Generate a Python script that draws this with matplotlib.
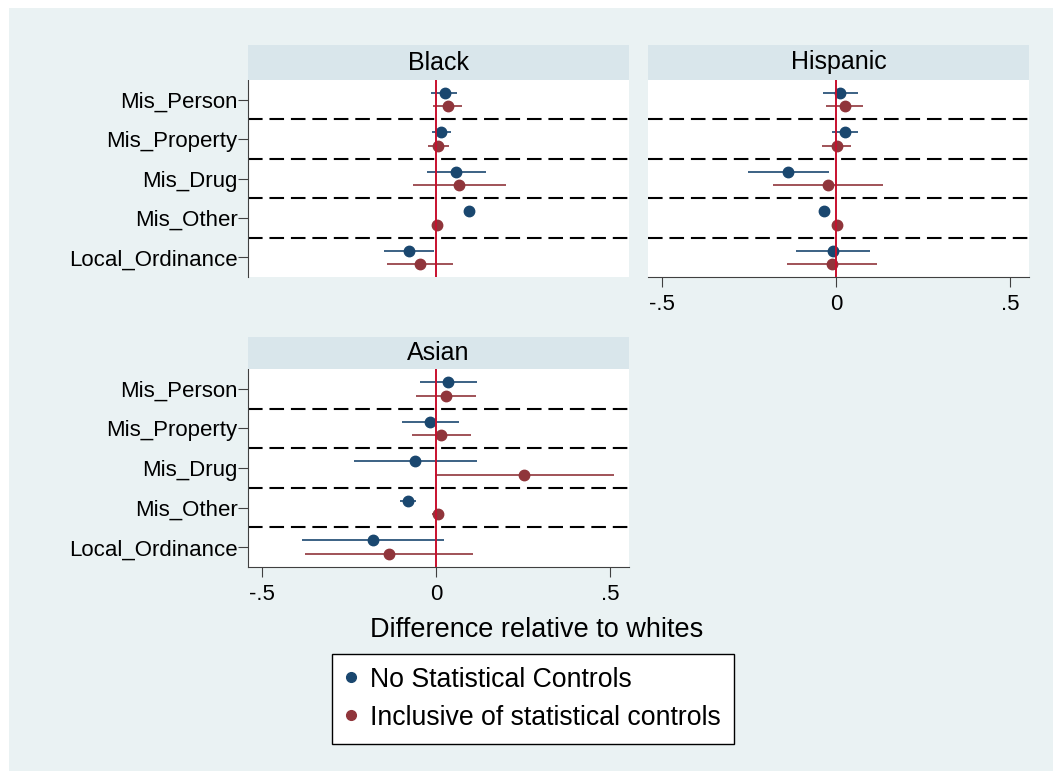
import numpy as np
import matplotlib
matplotlib.use("Agg")
import matplotlib.pyplot as plt
from matplotlib.patches import Rectangle
from matplotlib.lines import Line2D

plt.rcParams['font.family'] = ['Liberation Sans', 'DejaVu Sans']

categories = ["Mis_Person", "Mis_Property", "Mis_Drug", "Mis_Other", "Local_Ordinance"]
groups = ["Black", "Hispanic", "Asian"]
series_names = ["No Statistical Controls", "Inclusive of statistical controls"]

# point estimates and confidence bounds, per group, per category
black_none = [0.025, 0.015, 0.058, 0.096, -0.078]
black_none_lo = [-0.013, -0.011, -0.026, 0.090, -0.149]
black_none_hi = [0.061, 0.043, 0.144, 0.102, -0.006]
black_ctrl = [0.034, 0.007, 0.067, 0.003, -0.045]
black_ctrl_lo = [-0.007, -0.022, -0.067, -0.004, -0.140]
black_ctrl_hi = [0.076, 0.037, 0.201, 0.010, 0.048]

hisp_none = [0.012, 0.025, -0.138, -0.035, -0.009]
hisp_none_lo = [-0.036, -0.012, -0.254, -0.045, -0.116]
hisp_none_hi = [0.063, 0.063, -0.020, -0.018, 0.099]
hisp_ctrl = [0.026, 0.002, -0.024, 0.004, -0.011]
hisp_ctrl_lo = [-0.028, -0.040, -0.180, -0.003, -0.140]
hisp_ctrl_hi = [0.079, 0.044, 0.135, 0.011, 0.118]

asian_none = [0.035, -0.016, -0.059, -0.080, -0.181]
asian_none_lo = [-0.047, -0.097, -0.234, -0.102, -0.384]
asian_none_hi = [0.117, 0.065, 0.117, -0.058, 0.022]
asian_ctrl = [0.029, 0.016, 0.254, 0.006, -0.135]
asian_ctrl_lo = [-0.057, -0.069, -0.003, -0.010, -0.377]
asian_ctrl_hi = [0.115, 0.100, 0.513, 0.023, 0.106]

xticks = [-0.5, 0, 0.5]
xticklabels = ["-.5", "0", ".5"]

W, H = 1053, 771
BG = "#eaf2f3"
STRIP = "#d9e6eb"
BLUE = "#1a476f"
RED = "#90353b"

fig = plt.figure(figsize=(W / 100, H / 100), dpi=100)
fig.patch.set_facecolor("white")
fig.patches.append(Rectangle((9 / W, 0), 1 - 9 / W, 1 - 8 / H, transform=fig.transFigure,
                             facecolor=BG, edgecolor="none", zorder=-10))


def rect(x0, y0, x1, y1):
    return [x0 / W, 1 - y1 / H, (x1 - x0) / W, (y1 - y0) / H]


def panel(x0, y0, x1, y1, strip_top, title, data, left, bottom):
    ax = fig.add_axes(rect(x0, y0, x1, y1))
    ax.set_facecolor("white")
    st = fig.add_axes(rect(x0, strip_top, x1, y0))
    st.set_facecolor(STRIP)
    st.set_xticks([]); st.set_yticks([])
    for s in st.spines.values():
        s.set_visible(False)
    st.text(0.5, 0.5, title, ha="center", va="center", fontsize=18, transform=st.transAxes)

    y = np.arange(1, len(categories) + 1)
    offs = [-0.17, 0.17]
    cols = [BLUE, RED]
    for k, (est, lo, hi) in enumerate(data):
        yy = y + offs[k]
        ax.hlines(yy, lo, hi, color=cols[k], lw=1.2, zorder=3)
        ax.plot(est, yy, "o", color=cols[k], ms=7.5, zorder=4)
    for b in np.arange(1.5, len(categories), 1.0):
        ax.axhline(b, color="black", lw=1.5, ls=(0, (7, 3.3)), zorder=2)
    ax.axvline(0, color="#c8102e", lw=1.4, zorder=5)

    ax.set_xlim(-0.540, 0.555)
    ax.set_ylim(5.5, 0.5)
    for s in ["top", "right"]:
        ax.spines[s].set_visible(False)
    ax.spines["left"].set_visible(left)
    ax.spines["bottom"].set_visible(bottom)
    for s in ["left", "bottom"]:
        ax.spines[s].set_color("#404040")
    if left:
        ax.set_yticks(y)
        ax.set_yticklabels(categories, fontsize=16)
        ax.tick_params(axis="y", length=7, color="#404040", pad=0.5)
    else:
        ax.set_yticks([])
    if bottom:
        ax.set_xticks(xticks)
        ax.set_xticklabels(xticklabels, fontsize=16)
        ax.tick_params(axis="x", length=7, color="#404040", pad=5)
    else:
        ax.set_xticks([])
    return ax


panel(248, 80, 629, 277, 45, groups[0],
      [(black_none, black_none_lo, black_none_hi), (black_ctrl, black_ctrl_lo, black_ctrl_hi)],
      left=True, bottom=False)
panel(648, 80, 1029, 277, 45, groups[1],
      [(hisp_none, hisp_none_lo, hisp_none_hi), (hisp_ctrl, hisp_ctrl_lo, hisp_ctrl_hi)],
      left=False, bottom=True)
panel(248, 369, 629, 567, 337, groups[2],
      [(asian_none, asian_none_lo, asian_none_hi), (asian_ctrl, asian_ctrl_lo, asian_ctrl_hi)],
      left=True, bottom=True)

fig.text(537 / W, 1 - 630 / H, "Difference relative to whites", ha="center", va="center", fontsize=19.5)

handles = [Line2D([], [], ls="none", marker="o", color=BLUE, ms=7),
           Line2D([], [], ls="none", marker="o", color=RED, ms=7)]
leg = fig.legend(handles, series_names, loc="upper left", bbox_to_anchor=(332 / W, 1 - 654 / H),
                 borderaxespad=0, fontsize=19.2, frameon=True, fancybox=False, edgecolor="black",
                 facecolor="white", framealpha=1, handlelength=0.45, handletextpad=0.5,
                 borderpad=0.48, labelspacing=0.45)
leg.get_frame().set_linewidth(1.0)

fig.savefig("out.png", dpi=100, facecolor=fig.get_facecolor())
